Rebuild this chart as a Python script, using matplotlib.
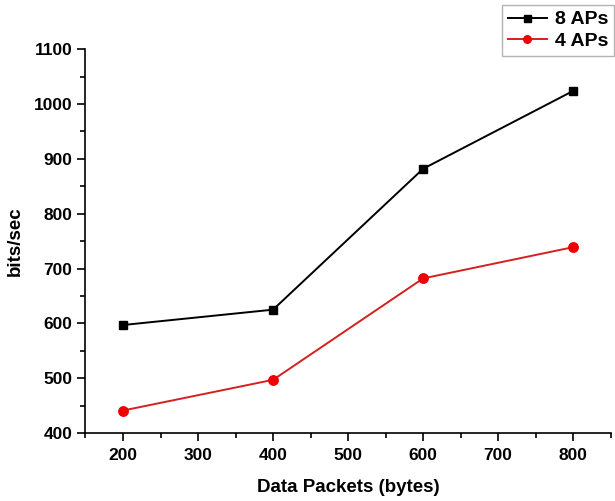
import numpy as np
import matplotlib
matplotlib.use('Agg')
from matplotlib import pyplot as plt
from matplotlib.ticker import MultipleLocator

packets = [200, 400, 600, 800]
aps8 = [597, 625, 882, 1024]
aps4 = [441, 497, 682, 739]

plt.rcParams['font.family'] = ['Liberation Sans', 'DejaVu Sans']
plt.rcParams['font.weight'] = 'bold'

fig = plt.figure(figsize=(6.15, 5.01), dpi=100)
ax = fig.add_axes([0.139, 0.1357, 0.854, 0.766])

ax.plot(packets, aps8, color='black', marker='s', markersize=6.3, linewidth=1.4, label='8 APs')
ax.plot(packets, aps4, color='#d42020', marker='o', markersize=6.8, linewidth=1.4,
        markerfacecolor='#f00000', markeredgecolor='#f00000', label='4 APs')

ax.set_xlim(150, 850)
ax.set_ylim(400, 1100)
ax.xaxis.set_major_locator(MultipleLocator(100))
ax.xaxis.set_minor_locator(MultipleLocator(50))
ax.yaxis.set_major_locator(MultipleLocator(100))
ax.yaxis.set_minor_locator(MultipleLocator(50))
ax.tick_params(which='major', direction='out', length=6, width=1.2, labelsize=12.5)
ax.tick_params(which='minor', direction='out', length=3.6, width=1.2)
ax.tick_params(axis='x', which='major', pad=4.5)
ax.tick_params(axis='y', which='major', pad=3.5)
for lab in ax.get_xticklabels() + ax.get_yticklabels():
    lab.set_fontweight('bold')

ax.spines['top'].set_visible(False)
ax.spines['right'].set_visible(False)
ax.spines['left'].set_linewidth(1.2)
ax.spines['bottom'].set_linewidth(1.2)

ax.set_xlabel('Data Packets (bytes)', fontsize=13.5, fontweight='bold', labelpad=12)
ax.set_ylabel('bits/sec', fontsize=13.5, fontweight='bold', labelpad=7)

# legend pushed to the top right corner
leg = fig.legend(loc='upper right', bbox_to_anchor=(0.998, 0.99), fontsize=14,
                 frameon=True, fancybox=False, edgecolor='#a0a0a0', markerscale=0.8,
                 handlelength=2.0, handletextpad=0.4, borderpad=0.3, labelspacing=0.2,
                 borderaxespad=0)
leg.get_frame().set_linewidth(1.0)
for t in leg.get_texts():
    t.set_fontweight('bold')

fig.savefig('out.png', dpi=100)
